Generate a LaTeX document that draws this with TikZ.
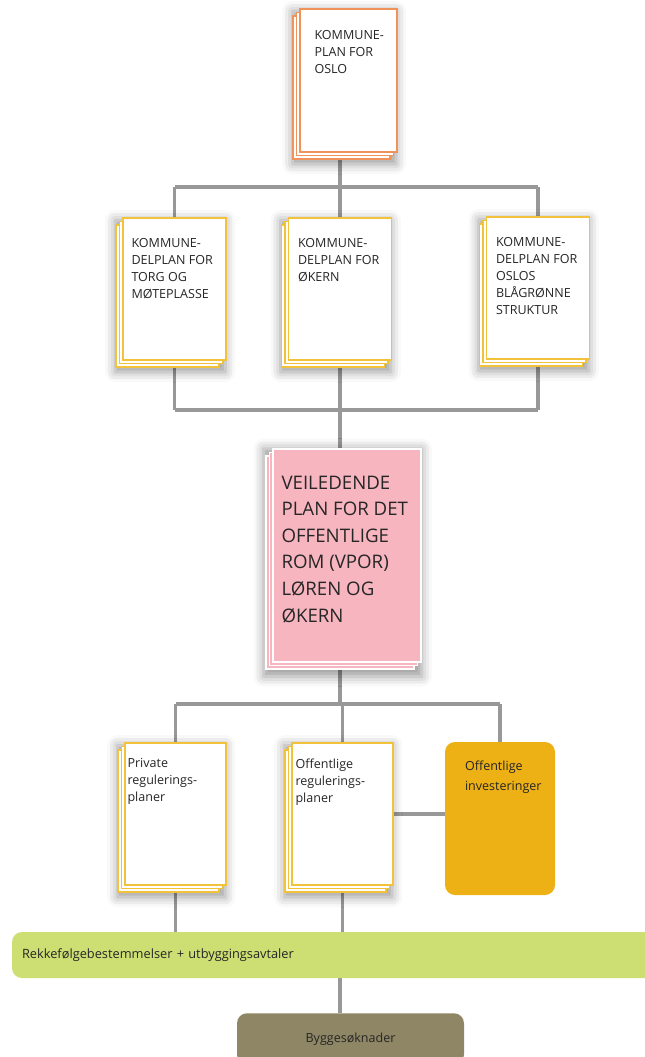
\documentclass[tikz,border=0pt]{standalone}
\usepackage{fontspec}
\setmainfont{Open Sans}
\usetikzlibrary{positioning,shadows,shadows.blur,backgrounds}

\definecolor{linegray}{HTML}{989898}
\definecolor{kporange}{HTML}{EF935A}
\definecolor{docyellow}{HTML}{F2C23A}
\definecolor{vporpink}{HTML}{F7B5BF}
\definecolor{investgold}{HTML}{EDB116}
\definecolor{rekkegreen}{HTML}{CDDF73}
\definecolor{byggbrown}{HTML}{8E8664}
\definecolor{txtgray}{HTML}{262626}

\tikzstyle{link} = [draw=linegray, line width=2.4pt]
\tikzstyle{doctext} = [inner sep=0pt, align=left, anchor=north west, text=txtgray, font=\fontsize{9.4}{12.75}\selectfont]
\tikzstyle{bigtext} = [doctext, font=\fontsize{14}{19.9}\selectfont]
\tikzstyle{softshadow} = [blur shadow={shadow scale=1.07, shadow xshift=-3pt, shadow yshift=-5pt, shadow blur radius=7pt, shadow opacity=40}]
\tikzset{
  stack/.style 2 args={draw=#1, fill=#2, line width=1.1pt, rectangle, inner sep=0pt, softshadow,
    copy shadow={shadow xshift=-5.2pt, shadow yshift=-5.2pt, draw=#1, fill=#2, opacity=1, line width=1.1pt},
    copy shadow={shadow xshift=-2.6pt, shadow yshift=-2.6pt, draw=#1, fill=#2, opacity=1, line width=1.1pt}}
}
\tikzstyle{roundbox} = [rectangle, rounded corners=7.5pt, inner sep=0pt]

\begin{document}
\begin{tikzpicture}[x=0.75pt, y=-0.75pt]
    \useasboundingbox (0,0) rectangle (645,1057);

    % sheets of plans
    \node[stack={kporange}{white}, minimum width=72.75pt, minimum height=107.25pt] (kp) at (348.5,80.5) {};
    \foreach \pos/\name in {{(174.5,289)/delLeft}, {(340,289)/delMid}, {(538,288)/delRight}}
        \node[stack={docyellow}{white}, minimum width=77.25pt, minimum height=106.5pt] (\name) at \pos {};
    \node[stack={white}{vporpink}, minimum width=111pt, minimum height=159.75pt] (vpor) at (347,555.5) {};
    \foreach \pos/\name in {{(175.5,814)/priv}, {(342.5,814)/offReg}}
        \node[stack={docyellow}{white}, minimum width=75.75pt, minimum height=106.5pt] (\name) at \pos {};
    \node[roundbox, fill=investgold, minimum width=82.5pt, minimum height=114.75pt] (invest) at (500,818.5) {};

    % texts on the sheets
    \node[doctext] (kpTxt) at ([shift={(15,22)}]kp.north west) {KOMMUNE-\\PLAN FOR\\OSLO};
    \node[doctext] (delLeftTxt) at ([shift={(9,21)}]delLeft.north west) {KOMMUNE-\\DELPLAN FOR\\TORG OG\\MØTEPLASSE};
    \node[doctext] (delMidTxt) at ([shift={(10,21)}]delMid.north west) {KOMMUNE-\\DELPLAN FOR\\ØKERN};
    \node[doctext] (delRightTxt) at ([shift={(10,21)}]delRight.north west) {KOMMUNE-\\DELPLAN FOR\\OSLOS\\BLÅGRØNNE\\STRUKTUR};
    \node[bigtext] (vporTxt) at ([shift={(9,27.5)}]vpor.north west) {VEILEDENDE\\PLAN FOR DET\\OFFENTLIGE\\ROM (VPOR)\\LØREN OG\\ØKERN};
    \node[doctext] (privTxt) at ([shift={(3,16)}]priv.north west) {Private\\regulerings-\\planer};
    \node[doctext] (offRegTxt) at ([shift={(4,16)}]offReg.north west) {Offentlige\\regulerings-\\planer};
    \node[doctext, font=\fontsize{9.4}{15}\selectfont] (investTxt) at ([shift={(20,19)}]invest.north west) {Offentlige\\investeringer};

    % bars at the bottom
    \node[roundbox, fill=rekkegreen, minimum width=486pt, minimum height=34.5pt, text width=471pt,
          align=left, inner xsep=7.5pt, text=txtgray, font=\fontsize{9.6}{11}\selectfont] (rekke) at (336,955)
          {Rekkefølgebestemmelser + utbyggingsavtaler};
    \node[roundbox, fill=byggbrown, anchor=north, minimum width=170.25pt, inner ysep=14.5pt,
          text=txtgray, font=\fontsize{9.4}{11}\selectfont] (bygg) at (350.5,1013) {Byggesøknader};

    % connectors
    \coordinate (j1) at (340,187);
    \coordinate (j2) at (340,410);
    \coordinate (j3) at (340,704);
    \begin{scope}[on background layer]
        \path[link] (j1 |- kp.south) -- (j1);
        \path[link] (j1 -| delLeft.north) -- (j1 -| delRight.north);
        \foreach \n in {delLeft, delMid, delRight} {
            \path[link] (j1 -| \n.north) -- (\n.north);
            \path[link] (\n.south) -- (j2 -| \n.south);
        }
        \path[link] (j2 -| delLeft.south) -- (j2 -| delRight.south);
        \path[link] (j2) -- (j2 |- vpor.north);
        \path[link] (j2 |- vpor.south) -- (j3);
        \path[link] (j3 -| priv.north) -- (j3 -| invest.north);
        \foreach \n in {priv, offReg, invest}
            \path[link] (j3 -| \n.north) -- (\n.north);
        \path[link] (offReg.east) -- (offReg.east -| invest.west);
        \foreach \n in {priv, offReg}
            \path[link] (\n.south) -- (\n.south |- rekke.north);
        \path[link] (j3 |- rekke.south) -- (j3 |- bygg.north);
    \end{scope}
\end{tikzpicture}
\end{document}
